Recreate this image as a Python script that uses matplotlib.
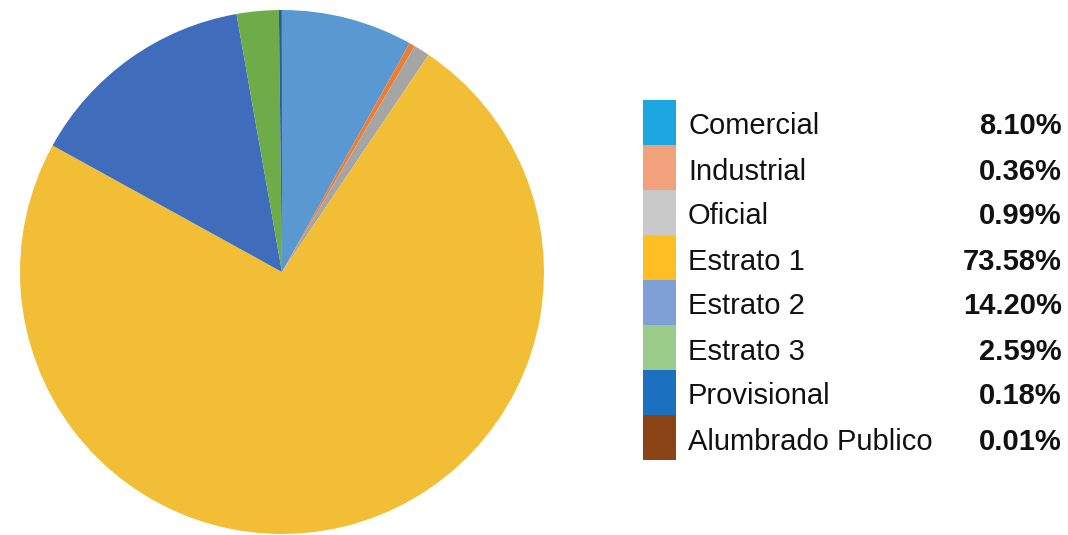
import matplotlib.pyplot as plt
from matplotlib.patches import Rectangle

categorias = ["Comercial", "Industrial", "Oficial", "Estrato 1",
              "Estrato 2", "Estrato 3", "Provisional", "Alumbrado Publico"]
porcentajes = [8.10, 0.36, 0.99, 73.58, 14.20, 2.59, 0.18, 0.01]
etiquetas = ["8.10%", "0.36%", "0.99%", "73.58%", "14.20%", "2.59%", "0.18%", "0.01%"]

# slice colours and the (lighter) legend swatch colours
colores_pie = ["#5998D0", "#ED7D31", "#A5A5A5", "#F2BE35",
               "#3F6DBC", "#6EAC4A", "#255E91", "#9E480E"]
colores_ley = ["#1DA7E1", "#F1A27C", "#C9C9C9", "#FFBF22",
               "#7F9FD7", "#9ACB89", "#1B70C0", "#8A4416"]

W, H = 1068, 535
fig = plt.figure(figsize=(W / 100, H / 100), dpi=100)

cx, cy, r = 282, 272, 262
ax = fig.add_axes([(cx - r) / W, (H - cy - r) / H, 2 * r / W, 2 * r / H])
ax.pie(porcentajes, colors=colores_pie, startangle=90, counterclock=False,
       wedgeprops=dict(linewidth=0))
ax.set_xlim(-1, 1)
ax.set_ylim(-1, 1)
ax.set_aspect("equal")
ax.axis("off")

# legend drawn in pixel coordinates
lg = fig.add_axes([0, 0, 1, 1])
lg.set_xlim(0, W)
lg.set_ylim(H, 0)
lg.axis("off")
y0, paso = 100, 45
for i, (nom, et) in enumerate(zip(categorias, etiquetas)):
    y = y0 + i * paso
    lg.add_patch(Rectangle((643, y), 33, paso, facecolor=colores_ley[i], linewidth=0))
    lg.text(688, y + paso / 2 + 4, nom, fontsize=21, family="Liberation Sans",
            va="center", ha="left", color="#111111")
    lg.text(1062, y + paso / 2 + 4, et, fontsize=21, family="Liberation Sans",
            fontweight="bold", va="center", ha="right", color="#111111")

fig.savefig("out.png", dpi=100)
